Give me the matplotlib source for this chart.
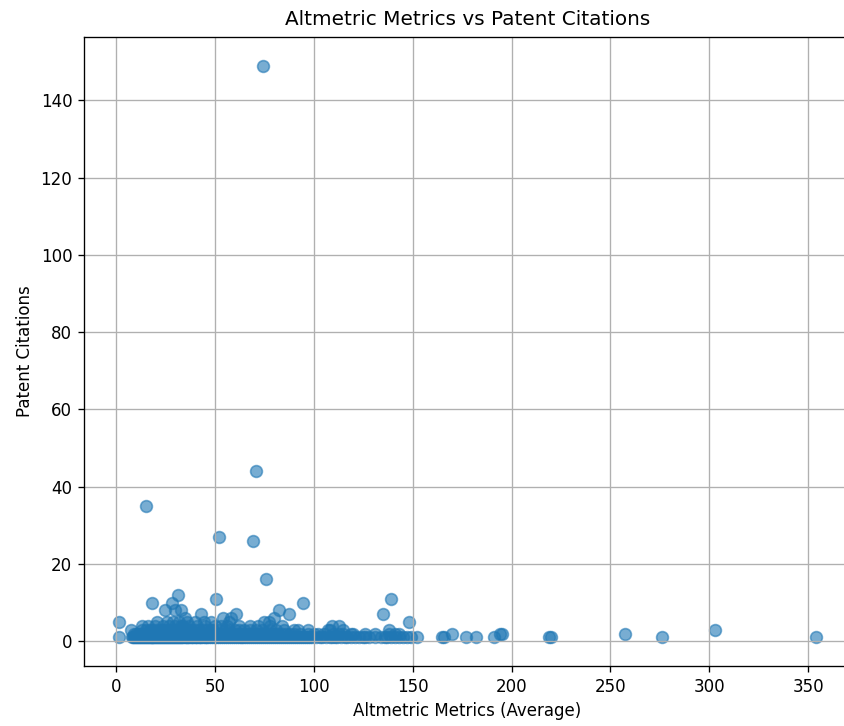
import matplotlib
matplotlib.use('Agg')
import matplotlib.pyplot as plt
import numpy as np

# altmetric averages grouped by patent citation count
cit_1 = [1.5, 8, 8.5, 9, 9.5, 10, 10.5, 11, 11.5, 12, 12.5, 13, 13.5, 14,
         14.5, 15, 15.5, 16, 16.5, 17, 17.5, 18, 18.5, 19, 19.5, 20, 20.5,
         21, 21.5, 22, 22.5, 23, 23.5, 24, 24.5, 25, 25.5, 26, 26.5, 27,
         27.5, 28, 28.5, 29, 29.5, 30, 30.5, 31, 31.5, 32, 32.5, 33, 33.5,
         34, 35, 35.5, 36, 36.5, 37, 38, 38.5, 39, 40, 40.5, 41, 42, 42.5,
         43, 44, 45, 45.5, 46, 47, 48, 49, 50, 51, 52, 53, 54, 55, 56, 57,
         58, 59, 60, 61, 62, 63, 64, 65, 66, 67, 68, 69, 70, 71, 72, 73, 74,
         75, 76, 77, 78, 79, 80, 81, 82, 83, 84, 85, 86, 87, 88, 89, 90, 91,
         92, 93, 94, 95, 96, 97, 98, 99, 101, 103, 104, 106, 108, 109, 111,
         112, 114, 116, 117, 119, 121, 123, 125, 126, 128, 131, 134, 136,
         137, 139, 141, 143, 145, 147, 149, 152, 165, 166, 177, 182, 191,
         219, 220, 276, 354]
cit_2 = [9, 10, 11, 12, 13, 14, 15, 16, 17, 18, 19, 20, 21, 22, 23, 24, 25,
         26, 27, 28, 29, 30, 31, 32, 33, 34, 35, 36, 37, 38, 39, 40, 41, 42,
         43, 44, 46, 47, 48, 50, 51, 52, 54, 55, 56, 58, 59, 61, 62, 64, 65,
         67, 68, 70, 72, 73, 75, 77, 79, 80, 82, 84, 86, 88, 90, 93, 97, 100,
         102, 105, 110, 113, 115, 119, 120, 126, 131, 138, 141, 143, 170,
         194, 195, 257.5]
cit_3 = [7.5, 13, 15, 17, 19, 21, 23, 24, 26, 28, 29, 31, 33, 35, 36, 38,
         40, 42, 44, 46, 48, 49, 52, 55, 57, 60, 62, 65, 68, 71, 74, 78, 81,
         85, 90, 92, 97, 107, 108, 115, 138, 303]
cit_4 = [13, 16, 20, 24, 27, 30, 33, 34, 37, 41, 45, 50, 53, 56, 62, 68, 72,
         78, 84, 109, 113]
cit_5 = [1.5, 21, 26, 29, 32, 36, 40, 44.5, 48, 57, 75, 77.5, 148]
cit_6 = [35, 54, 58, 80]
cit_7 = [42.8, 60.5, 87.5, 135]
cit_8 = [25, 30, 32.7, 82.4]

# sparse outliers
out_x = [18.4, 28.3, 94.6, 50.5, 139, 31.5, 76, 69.5, 52, 15, 71, 74.5]
out_y = [10, 10, 10, 11, 11, 12, 16, 26, 27, 35, 44, 149]

groups = [(cit_1, 1), (cit_2, 2), (cit_3, 3), (cit_4, 4),
          (cit_5, 5), (cit_6, 6), (cit_7, 7), (cit_8, 8)]

xs = []
ys = []
for vals, c in groups:
    xs += vals
    ys += [c] * len(vals)
xs += out_x
ys += out_y

DPI = 120
fig = plt.figure(figsize=(844 / DPI, 726 / DPI), dpi=DPI)
ax = fig.add_axes([84 / 844, 60 / 726, 767 / 844, 629 / 726])

ax.scatter(xs, ys, s=50, alpha=0.6)
ax.set_title('Altmetric Metrics vs Patent Citations', pad=7)
ax.set_xlabel('Altmetric Metrics (Average)')
ax.set_ylabel('Patent Citations')
ax.grid(True)

fig.savefig('out.png', dpi=DPI)
